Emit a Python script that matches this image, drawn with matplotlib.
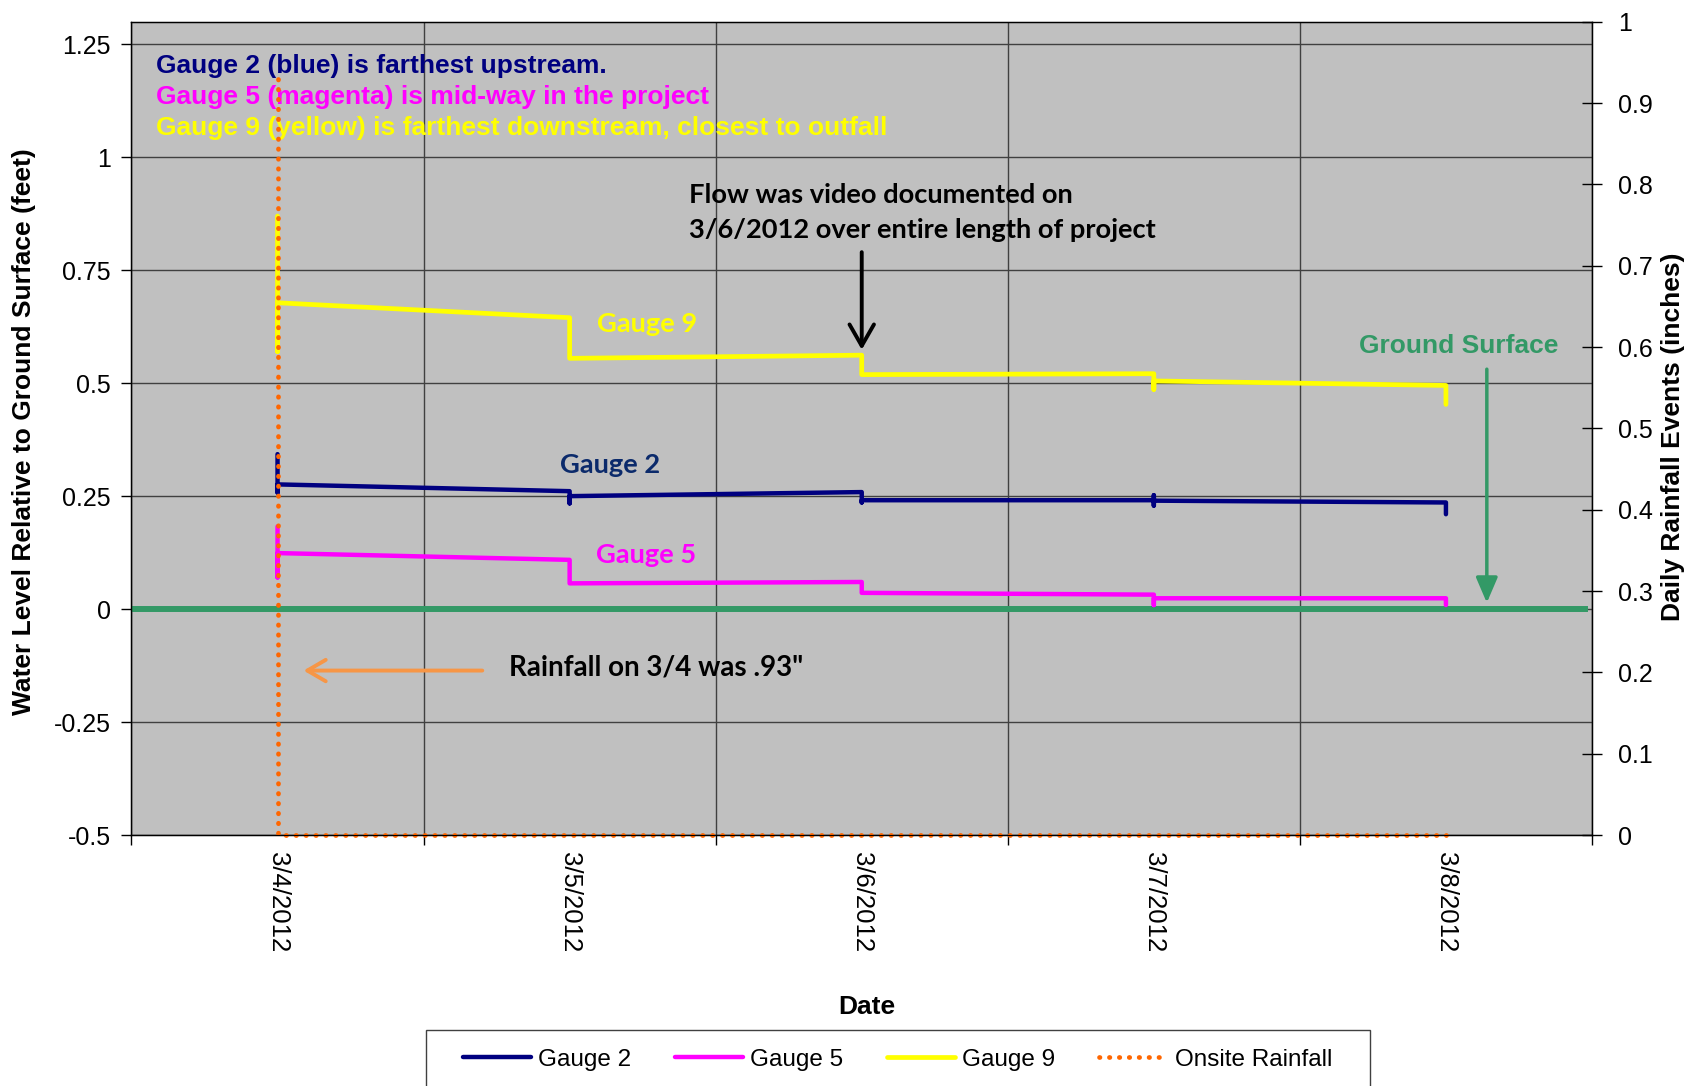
import matplotlib
matplotlib.use("Agg")
import matplotlib.pyplot as plt
from matplotlib.patches import Rectangle
import numpy as np

# time axis: days counted from 3/4/2012 00:00
date_pos = [0, 1, 2, 3, 4]
date_labels = ["3/4/2012", "3/5/2012", "3/6/2012", "3/7/2012", "3/8/2012"]

# water level relative to ground surface (feet)
g2_t = [0, 0, 0, 1, 1, 1, 2, 2, 2, 3, 3, 3, 3, 4, 4]
g2_lvl = [0.343, 0.258, 0.276, 0.261, 0.234, 0.250, 0.259, 0.236, 0.241,
          0.241, 0.252, 0.229, 0.240, 0.236, 0.210]

g5_t = [0, 0, 0, 1, 1, 2, 2, 3, 3, 3, 4, 4]
g5_lvl = [0.183, 0.070, 0.124, 0.109, 0.057, 0.060, 0.036, 0.032, 0.009,
          0.024, 0.024, 0.009]

g9_t = [0, 0, 0, 1, 1, 2, 2, 3, 3, 3, 4, 4]
g9_lvl = [0.870, 0.570, 0.678, 0.645, 0.555, 0.562, 0.519, 0.521, 0.486,
          0.505, 0.495, 0.453]

# daily rainfall (inches)
rain_t = [0, 0, 1, 2, 3, 4]
rain_in = [0.93, 0, 0, 0, 0, 0]

left_ticks = [-0.5, -0.25, 0, 0.25, 0.5, 0.75, 1, 1.25]
left_labels = ["-0.5", "-0.25", "0", "0.25", "0.5", "0.75", "1", "1.25"]
right_ticks = [0, 0.1, 0.2, 0.3, 0.4, 0.5, 0.6, 0.7, 0.8, 0.9, 1.0]
right_labels = ["0", "0.1", "0.2", "0.3", "0.4", "0.5", "0.6", "0.7", "0.8", "0.9", "1"]

ARIAL = "Liberation Sans"
CALIBRI = "Lato"
NAVY = "#000080"
MAGENTA = "#FF00FF"
YELLOW = "#FFFF00"
GREEN = "#339966"
ORANGE = "#FF6600"

fig = plt.figure(figsize=(16.9, 10.86), dpi=100)
ax1 = fig.add_axes([0.0778, 0.2311, 0.8642, 0.7489])
ax1.set_facecolor("#C0C0C0")
ax1.set_xlim(-0.5, 4.5)
ax1.set_ylim(-0.5, 1.3)

# grid: horizontal at value ticks, vertical between dates
ax1.set_yticks(left_ticks)
ax1.set_yticklabels(left_labels, fontfamily=ARIAL, fontsize=18)
ax1.set_xticks(date_pos)
ax1.set_xticklabels(date_labels, rotation=270, fontfamily=ARIAL, fontsize=18.5)
ax1.set_xticks(np.arange(-0.5, 4.6, 1.0), minor=True)
ax1.tick_params(axis="x", which="major", length=0, pad=12)
ax1.tick_params(axis="x", which="minor", length=7, width=1, direction="out")
ax1.tick_params(axis="y", which="major", length=7, width=1, direction="out", pad=8)
ax1.grid(True, which="minor", axis="x", color="#404040", lw=1)
ax1.grid(True, which="major", axis="y", color="#404040", lw=1)
ax1.set_axisbelow(True)
for s in ax1.spines.values():
    s.set_color("black")
    s.set_linewidth(1)

lkw = dict(solid_capstyle="round", solid_joinstyle="round")
ax1.axhline(0, xmin=0, xmax=0.995, color=GREEN, lw=4.3, zorder=2)
ax1.plot(g2_t, g2_lvl, color=NAVY, lw=3.2, label="Gauge 2", zorder=3, **lkw)
ax1.plot(g5_t, g5_lvl, color=MAGENTA, lw=3.2, label="Gauge 5", zorder=3, **lkw)
ax1.plot(g9_t, g9_lvl, color=YELLOW, lw=3.4, label="Gauge 9", zorder=3, **lkw)

ax2 = ax1.twinx()
ax2.set_ylim(0, 1)
ax2.set_yticks(right_ticks)
ax2.set_yticklabels(right_labels, fontfamily=ARIAL, fontsize=18)
ax2.tick_params(axis="y", length=14, width=1, direction="inout", pad=12)
ax2.spines["right"].set_color("black")
rain_line, = ax2.plot(rain_t, rain_in, color=ORANGE, lw=3.4,
                      linestyle=(0, (0.1, 2.0)), dash_capstyle="round",
                      label="Onsite Rainfall", clip_on=False)

# notes
hdr = dict(fontfamily=ARIAL, fontweight="bold", fontsize=19, va="center", ha="left")
ax1.text(-0.417, 1.202, "Gauge 2 (blue) is farthest upstream.", color=NAVY, **hdr)
ax1.text(-0.417, 1.133, "Gauge 5 (magenta) is mid-way in the project", color=MAGENTA, **hdr)
ax1.text(-0.417, 1.064, "Gauge 9 (yellow) is farthest downstream, closest to outfall", color=YELLOW, **hdr)

cal = dict(fontfamily=CALIBRI, fontweight="bold", fontsize=19.6, va="center")
ax1.text(1.41, 0.917, "Flow was video documented on", color="black", ha="left", **cal)
ax1.text(1.41, 0.838, "3/6/2012 over entire length of project", color="black", ha="left", **cal)
ax1.annotate("", xy=(2.0, 0.574), xytext=(2.0, 0.79),
             arrowprops=dict(arrowstyle="->,head_length=0.7,head_width=0.4",
                             lw=2.8, color="black", mutation_scale=22,
                             shrinkA=0, shrinkB=0))

ax1.text(1.266, 0.631, "Gauge 9", color=YELLOW, ha="center", **cal)
ax1.text(1.137, 0.319, "Gauge 2", color="#0B2A6B", ha="center", **cal)
ax1.text(1.262, 0.119, "Gauge 5", color=MAGENTA, ha="center", **cal)

ax1.text(4.044, 0.583, "Ground Surface", color=GREEN, fontfamily=ARIAL,
         fontweight="bold", fontsize=19, ha="center", va="center")
ax1.annotate("", xy=(4.14, 0.014), xytext=(4.14, 0.531),
             arrowprops=dict(arrowstyle="-|>,head_length=0.7,head_width=0.3",
                             lw=2.5, color=GREEN, mutation_scale=22,
                             shrinkA=0, shrinkB=0))

ax1.text(0.793, -0.129, "Rainfall on 3/4 was .93\"", color="black", ha="left",
         fontfamily=CALIBRI, fontweight="bold", fontsize=20, va="center")
ax1.annotate("", xy=(0.089, -0.136), xytext=(0.701, -0.136),
             arrowprops=dict(arrowstyle="->,head_length=0.6,head_width=0.35",
                             lw=2.8, color="#F79646", mutation_scale=22,
                             shrinkA=0, shrinkB=0))

lab = dict(fontfamily=ARIAL, fontweight="bold", fontsize=19)
fig.text(23.7 / 1690, 0.603, "Water Level Relative to Ground Surface (feet)",
         rotation=90, ha="center", va="center", **lab)
fig.text(1673 / 1690, 0.598, "Daily Rainfall Events (inches)",
         rotation=90, ha="center", va="center", **lab)
fig.text(866.5 / 1690, 1 - 1007 / 1086, "Date", ha="center", va="center", **lab)

# legend box runs past the bottom edge of the figure
fig.patches.append(Rectangle((426 / 1690, -0.05), (1370 - 426) / 1690,
                             0.05 + (1086 - 1030) / 1086,
                             transform=fig.transFigure, facecolor="white",
                             edgecolor="#404040", lw=1, zorder=0))
handles = ax1.get_lines()[1:] + [rain_line]
fig.legend(handles, [h.get_label() for h in handles], loc="center",
           bbox_to_anchor=(0.531, 0.0244), ncol=4, frameon=False,
           prop={"family": ARIAL, "size": 17.5}, handlelength=2.8,
           handletextpad=0.3, columnspacing=1.8)

fig.savefig("out.png", dpi=100)
